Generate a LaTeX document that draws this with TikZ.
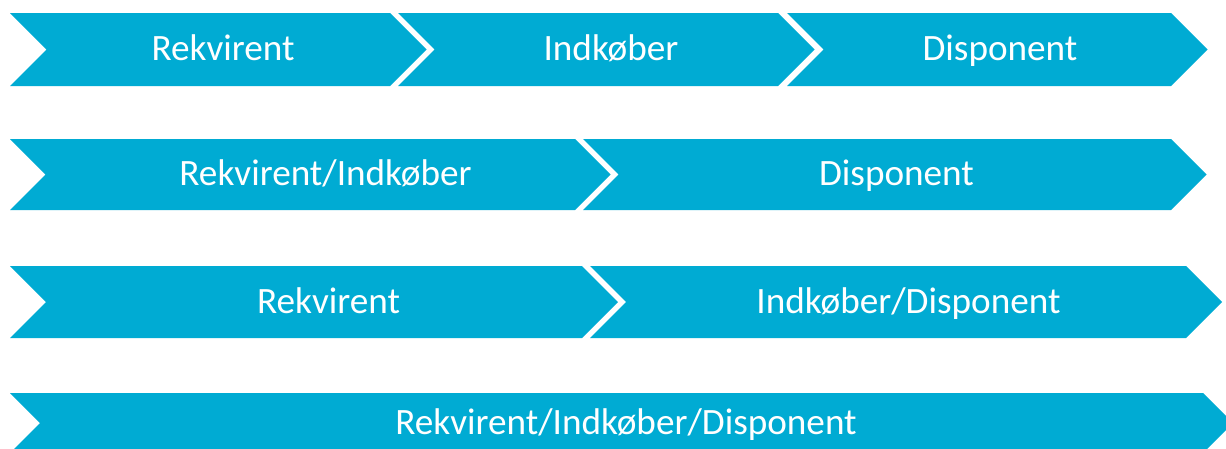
\documentclass[tikz,border=0pt]{standalone}
\usepackage{fontspec}
\setmainfont{Carlito}
\definecolor{chevblue}{RGB}{0,171,211}
\tikzset{
  chevfill/.style={fill=chevblue, draw=none},
  chevlabel/.style={text=white, anchor=base, inner sep=0pt,
    font=\fontsize{37.2}{41}\selectfont}
}
% \chevron{name}{left}{right}{top}{bottom}{label x}{label}
\newcommand{\chevron}[7]{%
  \pgfmathsetmacro{\hh}{(#5-#4)/2}%
  \pgfmathsetmacro{\mm}{(#5+#4)/2}%
  \fill[chevfill] (#2,#4) -- (#3,#4) -- (#3+\hh,\mm) -- (#3,#5) -- (#2,#5)
    -- (#2+\hh,\mm) -- cycle;
  \node[chevlabel] (#1) at (#6,\mm+11) {#7};%
}
\begin{document}
\begin{tikzpicture}[x=1pt,y=-1pt]
\useasboundingbox (0,0) rectangle (1226,448);
% first row: three roles
\chevron{r1a}{10}{390}{13}{86}{223}{Rekvirent}
\chevron{r1b}{398}{778}{13}{86}{611}{Indkøber}
\chevron{r1c}{787}{1171}{13}{86}{1000}{Disponent}
% second row
\chevron{r2a}{10}{575}{139}{210}{325.5}{Rekvirent/Indkøber}
\chevron{r2b}{583}{1171}{139}{210}{896.5}{Disponent}
% third row
\chevron{r3a}{10}{582}{266}{338}{328.5}{Rekvirent}
\chevron{r3b}{590}{1186}{266}{338}{908.5}{Indkøber/Disponent}
% fourth row: one combined role
\chevron{r4a}{10}{1203}{393}{453}{626}{Rekvirent/Indkøber/Disponent}
\end{tikzpicture}
\end{document}
